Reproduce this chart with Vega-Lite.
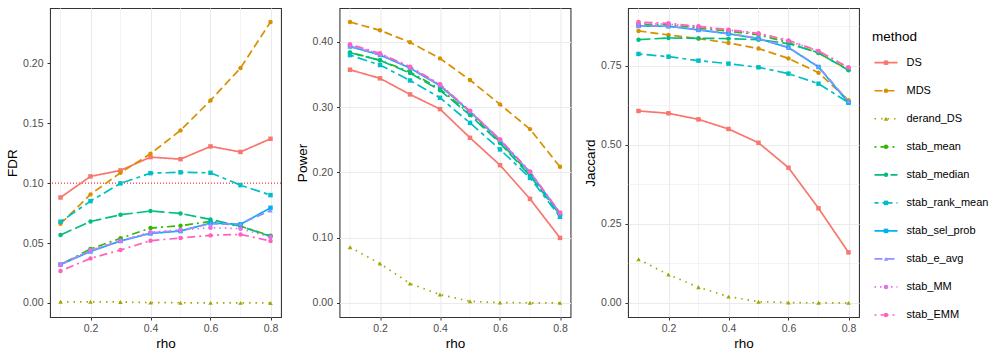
{
  "$schema": "https://vega.github.io/schema/vega-lite/v6.json",
  "padding": {"left": 5, "top": 7, "right": 2, "bottom": 4},
  "background": "white",
  "spacing": 11.5,
  "config": {
    "font": "Liberation Sans",
    "view": {"stroke": "#333333", "strokeWidth": 1.07},
    "axis": {
      "domain": false,
      "gridColor": "#EBEBEB",
      "tickColor": "#333333",
      "tickSize": 3,
      "tickWidth": 1,
      "labelColor": "#4D4D4D",
      "labelFontSize": 10.5,
      "labelOverlap": false,
      "labelFlush": false,
      "titleFontSize": 13.5,
      "titleFontWeight": "normal",
      "titleColor": "#000000"
    },
    "axisX": {"labelPadding": 3.5, "titlePadding": 2},
    "axisY": {"labelPadding": 4, "titlePadding": 3}
  },
  "data": {"values": [
    {"method":"DS","rho":0.1,"FDR":0.088,"Power":0.3574,"Jaccard":0.6076},
    {"method":"DS","rho":0.2,"FDR":0.1056,"Power":0.3442,"Jaccard":0.6002},
    {"method":"DS","rho":0.3,"FDR":0.1106,"Power":0.3196,"Jaccard":0.581},
    {"method":"DS","rho":0.4,"FDR":0.1217,"Power":0.2971,"Jaccard":0.5506},
    {"method":"DS","rho":0.5,"FDR":0.12,"Power":0.2531,"Jaccard":0.507},
    {"method":"DS","rho":0.6,"FDR":0.1306,"Power":0.2112,"Jaccard":0.428},
    {"method":"DS","rho":0.7,"FDR":0.126,"Power":0.1595,"Jaccard":0.2996},
    {"method":"DS","rho":0.8,"FDR":0.137,"Power":0.0997,"Jaccard":0.16},
    {"method":"MDS","rho":0.1,"FDR":0.066,"Power":0.4305,"Jaccard":0.8608},
    {"method":"MDS","rho":0.2,"FDR":0.0906,"Power":0.4178,"Jaccard":0.848},
    {"method":"MDS","rho":0.3,"FDR":0.1086,"Power":0.3994,"Jaccard":0.8365},
    {"method":"MDS","rho":0.4,"FDR":0.1245,"Power":0.3748,"Jaccard":0.8228},
    {"method":"MDS","rho":0.5,"FDR":0.144,"Power":0.3416,"Jaccard":0.805},
    {"method":"MDS","rho":0.6,"FDR":0.169,"Power":0.3043,"Jaccard":0.774},
    {"method":"MDS","rho":0.7,"FDR":0.196,"Power":0.2664,"Jaccard":0.7288},
    {"method":"MDS","rho":0.8,"FDR":0.2344,"Power":0.2086,"Jaccard":0.6414},
    {"method":"derand_DS","rho":0.1,"FDR":0.001,"Power":0.0854,"Jaccard":0.138},
    {"method":"derand_DS","rho":0.2,"FDR":0.001,"Power":0.0604,"Jaccard":0.0897},
    {"method":"derand_DS","rho":0.3,"FDR":0.0008,"Power":0.0297,"Jaccard":0.0496},
    {"method":"derand_DS","rho":0.4,"FDR":0.0003,"Power":0.0129,"Jaccard":0.02},
    {"method":"derand_DS","rho":0.5,"FDR":0.0002,"Power":0.0026,"Jaccard":0.004},
    {"method":"derand_DS","rho":0.6,"FDR":0.0001,"Power":0.0005,"Jaccard":0.001},
    {"method":"derand_DS","rho":0.7,"FDR":0.0001,"Power":0.0003,"Jaccard":0.0005},
    {"method":"derand_DS","rho":0.8,"FDR":0,"Power":0.0002,"Jaccard":0.0003},
    {"method":"stab_mean","rho":0.1,"FDR":0.032,"Power":0.384,"Jaccard":0.882},
    {"method":"stab_mean","rho":0.2,"FDR":0.045,"Power":0.372,"Jaccard":0.88},
    {"method":"stab_mean","rho":0.3,"FDR":0.054,"Power":0.354,"Jaccard":0.87},
    {"method":"stab_mean","rho":0.4,"FDR":0.0625,"Power":0.328,"Jaccard":0.86},
    {"method":"stab_mean","rho":0.5,"FDR":0.0645,"Power":0.29,"Jaccard":0.849},
    {"method":"stab_mean","rho":0.6,"FDR":0.068,"Power":0.247,"Jaccard":0.824},
    {"method":"stab_mean","rho":0.7,"FDR":0.064,"Power":0.197,"Jaccard":0.791},
    {"method":"stab_mean","rho":0.8,"FDR":0.056,"Power":0.136,"Jaccard":0.738},
    {"method":"stab_median","rho":0.1,"FDR":0.0567,"Power":0.3834,"Jaccard":0.8333},
    {"method":"stab_median","rho":0.2,"FDR":0.068,"Power":0.3718,"Jaccard":0.8386},
    {"method":"stab_median","rho":0.3,"FDR":0.0736,"Power":0.3523,"Jaccard":0.8376},
    {"method":"stab_median","rho":0.4,"FDR":0.0767,"Power":0.3258,"Jaccard":0.8365},
    {"method":"stab_median","rho":0.5,"FDR":0.0747,"Power":0.288,"Jaccard":0.8333},
    {"method":"stab_median","rho":0.6,"FDR":0.0697,"Power":0.245,"Jaccard":0.8207},
    {"method":"stab_median","rho":0.7,"FDR":0.064,"Power":0.195,"Jaccard":0.792},
    {"method":"stab_median","rho":0.8,"FDR":0.0556,"Power":0.135,"Jaccard":0.7363},
    {"method":"stab_rank_mean","rho":0.1,"FDR":0.0678,"Power":0.3799,"Jaccard":0.788},
    {"method":"stab_rank_mean","rho":0.2,"FDR":0.085,"Power":0.3646,"Jaccard":0.7795},
    {"method":"stab_rank_mean","rho":0.3,"FDR":0.0998,"Power":0.341,"Jaccard":0.7668},
    {"method":"stab_rank_mean","rho":0.4,"FDR":0.1083,"Power":0.3144,"Jaccard":0.7573},
    {"method":"stab_rank_mean","rho":0.5,"FDR":0.109,"Power":0.276,"Jaccard":0.7458},
    {"method":"stab_rank_mean","rho":0.6,"FDR":0.1086,"Power":0.2353,"Jaccard":0.7258},
    {"method":"stab_rank_mean","rho":0.7,"FDR":0.0983,"Power":0.1917,"Jaccard":0.694},
    {"method":"stab_rank_mean","rho":0.8,"FDR":0.09,"Power":0.132,"Jaccard":0.634},
    {"method":"stab_sel_prob","rho":0.1,"FDR":0.032,"Power":0.393,"Jaccard":0.8766},
    {"method":"stab_sel_prob","rho":0.2,"FDR":0.043,"Power":0.38,"Jaccard":0.8755},
    {"method":"stab_sel_prob","rho":0.3,"FDR":0.0517,"Power":0.36,"Jaccard":0.864},
    {"method":"stab_sel_prob","rho":0.4,"FDR":0.058,"Power":0.333,"Jaccard":0.852},
    {"method":"stab_sel_prob","rho":0.5,"FDR":0.06,"Power":0.293,"Jaccard":0.8365},
    {"method":"stab_sel_prob","rho":0.6,"FDR":0.0667,"Power":0.249,"Jaccard":0.808},
    {"method":"stab_sel_prob","rho":0.7,"FDR":0.0656,"Power":0.2,"Jaccard":0.7468},
    {"method":"stab_sel_prob","rho":0.8,"FDR":0.0794,"Power":0.137,"Jaccard":0.634},
    {"method":"stab_e_avg","rho":0.1,"FDR":0.0325,"Power":0.3935,"Jaccard":0.877},
    {"method":"stab_e_avg","rho":0.2,"FDR":0.0435,"Power":0.3805,"Jaccard":0.876},
    {"method":"stab_e_avg","rho":0.3,"FDR":0.052,"Power":0.3605,"Jaccard":0.865},
    {"method":"stab_e_avg","rho":0.4,"FDR":0.0585,"Power":0.3335,"Jaccard":0.853},
    {"method":"stab_e_avg","rho":0.5,"FDR":0.0605,"Power":0.2935,"Jaccard":0.837},
    {"method":"stab_e_avg","rho":0.6,"FDR":0.066,"Power":0.2495,"Jaccard":0.809},
    {"method":"stab_e_avg","rho":0.7,"FDR":0.066,"Power":0.2005,"Jaccard":0.748},
    {"method":"stab_e_avg","rho":0.8,"FDR":0.0772,"Power":0.1375,"Jaccard":0.638},
    {"method":"stab_MM","rho":0.1,"FDR":0.0318,"Power":0.3955,"Jaccard":0.885},
    {"method":"stab_MM","rho":0.2,"FDR":0.044,"Power":0.3815,"Jaccard":0.882},
    {"method":"stab_MM","rho":0.3,"FDR":0.052,"Power":0.3615,"Jaccard":0.874},
    {"method":"stab_MM","rho":0.4,"FDR":0.059,"Power":0.3345,"Jaccard":0.864},
    {"method":"stab_MM","rho":0.5,"FDR":0.061,"Power":0.2945,"Jaccard":0.852},
    {"method":"stab_MM","rho":0.6,"FDR":0.0628,"Power":0.2505,"Jaccard":0.829},
    {"method":"stab_MM","rho":0.7,"FDR":0.062,"Power":0.201,"Jaccard":0.797},
    {"method":"stab_MM","rho":0.8,"FDR":0.055,"Power":0.138,"Jaccard":0.745},
    {"method":"stab_EMM","rho":0.1,"FDR":0.0267,"Power":0.3963,"Jaccard":0.889},
    {"method":"stab_EMM","rho":0.2,"FDR":0.0372,"Power":0.3825,"Jaccard":0.885},
    {"method":"stab_EMM","rho":0.3,"FDR":0.0442,"Power":0.362,"Jaccard":0.8755},
    {"method":"stab_EMM","rho":0.4,"FDR":0.052,"Power":0.335,"Jaccard":0.865},
    {"method":"stab_EMM","rho":0.5,"FDR":0.0542,"Power":0.294,"Jaccard":0.8534},
    {"method":"stab_EMM","rho":0.6,"FDR":0.0564,"Power":0.2506,"Jaccard":0.831},
    {"method":"stab_EMM","rho":0.7,"FDR":0.0572,"Power":0.2012,"Jaccard":0.7975},
    {"method":"stab_EMM","rho":0.8,"FDR":0.0517,"Power":0.1385,"Jaccard":0.745}
  ]},
  "hconcat": [
    {
      "width": 231, "height": 309,
      "layer": [
        {"transform": [{"filter": "datum.method == 'DS' && (datum.rho == 0.1 || datum.rho == 0.3 || datum.rho == 0.5 || datum.rho == 0.7)"}],
         "mark": {"type": "rule", "color": "#EBEBEB", "strokeWidth": 0.55},
         "encoding": {"x": {"field": "rho", "type": "quantitative"}}},
        {"transform": [{"filter": "datum.method == 'DS' && datum.rho == 0.1"}],
         "mark": {"type": "rule", "color": "#FF0000", "strokeDash": [1, 2], "strokeWidth": 1},
         "encoding": {"y": {"datum": 0.1, "type": "quantitative"}}},
        {"mark": {"type": "line", "strokeWidth": 1.7},
         "encoding": {
           "x": {"field": "rho", "type": "quantitative", "scale": {"domain": [0.065, 0.835], "nice": false, "zero": false},
                 "axis": {"title": "rho", "values": [0.2,0.4,0.6,0.8], "format": ".1f", "gridWidth": 1.1}},
           "y": {"field": "FDR", "type": "quantitative", "scale": {"domain": [-0.0117, 0.2461], "nice": false, "zero": false},
                 "axis": {"title": "FDR", "values": [0,0.025,0.05,0.075,0.1,0.125,0.15,0.175,0.2,0.225], "labelExpr": "round(datum.value*40)%2==0 ? format(datum.value,'.2f') : ''",
                          "tickColor": {"condition": {"test": "round(datum.value*40)%2==0", "value": "#333333"}, "value": "transparent"},
                          "gridWidth": {"condition": {"test": "round(datum.value*40)%2==0", "value": 1.1}, "value": 0.55}}},
           "color": {"field": "method", "type": "nominal", "legend": null, "scale": {"domain": ["DS","MDS","derand_DS","stab_mean","stab_median","stab_rank_mean","stab_sel_prob","stab_e_avg","stab_MM","stab_EMM"], "range": ["#F8766D","#D89000","#A3A500","#39B600","#00BF7D","#00BFC4","#00B0F6","#9590FF","#E76BF3","#FF62BC"]}},
           "strokeDash": {"field": "method", "type": "nominal", "legend": null, "scale": {"domain": ["DS","MDS","derand_DS","stab_mean","stab_median","stab_rank_mean","stab_sel_prob","stab_e_avg","stab_MM","stab_EMM"], "range": [[1,0],[8,4],[1.5,5],[2,4,8,4],[12,4],[4,4,10,4],[1,0],[8,4],[1.5,4],[2,4,8,4]]}}
         }},
        {"mark": {"type": "point", "filled": true, "size": 20, "opacity": 1},
         "encoding": {
           "x": {"field": "rho", "type": "quantitative"},
           "y": {"field": "FDR", "type": "quantitative"},
           "color": {"field": "method", "type": "nominal", "legend": null},
           "shape": {"field": "method", "type": "nominal", "legend": null, "scale": {"domain": ["DS","MDS","derand_DS","stab_mean","stab_median","stab_rank_mean","stab_sel_prob","stab_e_avg","stab_MM","stab_EMM"], "range": ["square","circle","triangle-up","circle","circle","square","square","triangle-up","circle","circle"]}}
         }}
      ]
    },
    {
      "width": 231, "height": 309,
      "layer": [
        {"transform": [{"filter": "datum.method == 'DS' && (datum.rho == 0.1 || datum.rho == 0.3 || datum.rho == 0.5 || datum.rho == 0.7)"}],
         "mark": {"type": "rule", "color": "#EBEBEB", "strokeWidth": 0.55},
         "encoding": {"x": {"field": "rho", "type": "quantitative"}}},
        {"mark": {"type": "line", "strokeWidth": 1.7},
         "encoding": {
           "x": {"field": "rho", "type": "quantitative", "scale": {"domain": [0.065, 0.835], "nice": false, "zero": false},
                 "axis": {"title": "rho", "values": [0.2,0.4,0.6,0.8], "format": ".1f", "gridWidth": 1.1}},
           "y": {"field": "Power", "type": "quantitative", "scale": {"domain": [-0.0215, 0.452], "nice": false, "zero": false},
                 "axis": {"title": "Power", "values": [0,0.05,0.1,0.15,0.2,0.25,0.3,0.35,0.4,0.45], "labelExpr": "round(datum.value*20)%2==0 ? format(datum.value,'.2f') : ''",
                          "tickColor": {"condition": {"test": "round(datum.value*20)%2==0", "value": "#333333"}, "value": "transparent"},
                          "gridWidth": {"condition": {"test": "round(datum.value*20)%2==0", "value": 1.1}, "value": 0.55}}},
           "color": {"field": "method", "type": "nominal", "legend": null},
           "strokeDash": {"field": "method", "type": "nominal", "legend": null}
         }},
        {"mark": {"type": "point", "filled": true, "size": 20, "opacity": 1},
         "encoding": {
           "x": {"field": "rho", "type": "quantitative"},
           "y": {"field": "Power", "type": "quantitative"},
           "color": {"field": "method", "type": "nominal", "legend": null},
           "shape": {"field": "method", "type": "nominal", "legend": null}
         }}
      ]
    },
    {
      "width": 231, "height": 309,
      "layer": [
        {"transform": [{"filter": "datum.method == 'DS' && (datum.rho == 0.1 || datum.rho == 0.3 || datum.rho == 0.5 || datum.rho == 0.7)"}],
         "mark": {"type": "rule", "color": "#EBEBEB", "strokeWidth": 0.55},
         "encoding": {"x": {"field": "rho", "type": "quantitative"}}},
        {"mark": {"type": "line", "strokeWidth": 1.7},
         "encoding": {
           "x": {"field": "rho", "type": "quantitative", "scale": {"domain": [0.065, 0.835], "nice": false, "zero": false},
                 "axis": {"title": "rho", "values": [0.2,0.4,0.6,0.8], "format": ".1f", "gridWidth": 1.1}},
           "y": {"field": "Jaccard", "type": "quantitative", "scale": {"domain": [-0.04445, 0.93345], "nice": false, "zero": false},
                 "axis": {"title": "Jaccard", "values": [0,0.125,0.25,0.375,0.5,0.625,0.75,0.875], "labelExpr": "round(datum.value*8)%2==0 ? format(datum.value,'.2f') : ''",
                          "tickColor": {"condition": {"test": "round(datum.value*8)%2==0", "value": "#333333"}, "value": "transparent"},
                          "gridWidth": {"condition": {"test": "round(datum.value*8)%2==0", "value": 1.1}, "value": 0.55}}},
           "color": {"field": "method", "type": "nominal", "legend": null},
           "strokeDash": {"field": "method", "type": "nominal", "legend": null}
         }},
        {"mark": {"type": "point", "filled": true, "size": 20, "opacity": 1},
         "encoding": {
           "x": {"field": "rho", "type": "quantitative"},
           "y": {"field": "Jaccard", "type": "quantitative"},
           "color": {"field": "method", "type": "nominal", "legend": null},
           "shape": {"field": "method", "type": "nominal", "legend": null}
         }}
      ]
    },
    {
      "width": 23, "height": 309,
      "view": {"stroke": null},
      "transform": [{"filter": "datum.rho == 0.1"}],
      "layer": [
        {"mark": {"type": "rule", "strokeWidth": 1.7},
         "encoding": {
           "x": {"datum": 0, "type": "quantitative", "scale": {"domain": [0, 1], "nice": false, "zero": false}, "axis": null},
           "x2": {"datum": 1},
           "y": {"field": "method", "type": "nominal", "sort": null,
                 "scale": {"type": "point", "padding": 0, "domain": ["DS","MDS","derand_DS","stab_mean","stab_median","stab_rank_mean","stab_sel_prob","stab_e_avg","stab_MM","stab_EMM"], "range": [54.7, 307]},
                 "axis": {"title": "method", "domain": false, "ticks": false, "labels": false, "grid": false, "titleAngle": 0, "titleAlign": "left", "titleBaseline": "middle", "titleX": -3, "titleY": 28, "titleFontSize": 13.5}},
           "color": {"field": "method", "type": "nominal", "legend": null},
           "strokeDash": {"field": "method", "type": "nominal", "legend": null}
         }},
        {"mark": {"type": "point", "filled": true, "size": 20, "opacity": 1},
         "encoding": {
           "x": {"datum": 0.5, "type": "quantitative"},
           "y": {"field": "method", "type": "nominal"},
           "color": {"field": "method", "type": "nominal", "legend": null},
           "shape": {"field": "method", "type": "nominal", "legend": null}
         }},
        {"mark": {"type": "text", "align": "left", "baseline": "middle", "dx": 9, "fontSize": 11, "color": "#000000"},
         "encoding": {
           "x": {"datum": 1, "type": "quantitative"},
           "y": {"field": "method", "type": "nominal"},
           "text": {"field": "method", "type": "nominal"}
         }}
      ]
    }
  ]
}
